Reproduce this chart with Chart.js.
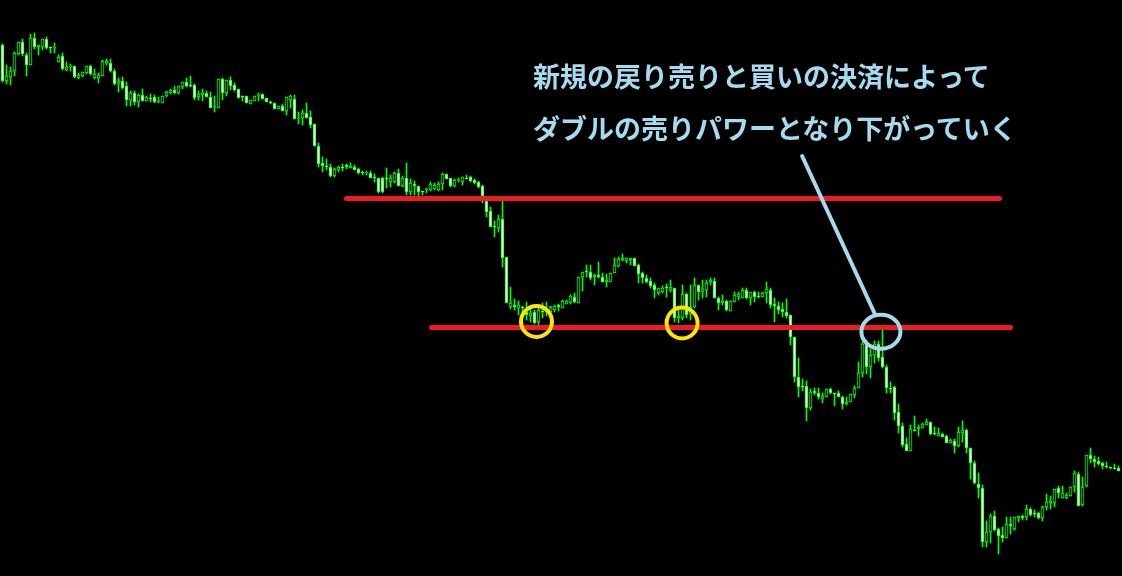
<!DOCTYPE html>
<html>
<head>
<meta charset="utf-8">
<script src="https://cdn.jsdelivr.net/npm/chart.js@4/dist/chart.umd.min.js"></script>
<style>
  html, body { margin: 0; padding: 0; background: #000; }
  #wrap { position: relative; width: 1122px; height: 576px; overflow: hidden; }
  .note {
    position: absolute; left: 533px; margin: 0; white-space: nowrap;
    font-family: "Noto Sans CJK JP", "Noto Sans", sans-serif;
    font-weight: 700; font-size: 27px; line-height: 27px; color: #a6dbef;
  }
</style>
</head>
<body>
<div id="wrap">
  <canvas id="chart" width="1122" height="576"></canvas>
  <p class="note" style="top:62px">新規の戻り売りと買いの決済によって</p>
  <p class="note" style="top:114px">ダブルの売りパワーとなり下がっていく</p>
</div>
<script>
// ローソク足 (価格はポイント表記)
var opens = [
  555,519,523,529,546,558,545,535,562,553, 553,561,553,552,538,544,530,533,534,522,
  524,527,534,522,522,524,537,537,529,516, 519,514,500,507,498,505,499,502,503,498,
  497,504,507,510,507,513,518,515,515,503, 505,507,503,493,492,521,507,520,515,511,
  504,504,496,499,504,506,502,498,497,491, 494,489,500,501,481,482,487,483,476,454,
  437,434,433,424,430,433,435,432,433,431, 428,427,427,423,422,422,422,418,418,427,
  414,422,408,416,414,409,410,410,411,410, 416,426,422,414,420,418,422,423,420,418,
  414,399,389,374,372,381,343,293,295,292, 293,288,284,288,278,289,288,288,290,295,
  292,296,297,303,297,323,329,328,323,325, 323,318,318,327,334,340,339,340,342,335,
  327,322,319,315,307,308,313,310,312,282, 282,306,286,293,315,308,310,318,319,302,
  297,299,289,298,303,302,310,302,308,304, 303,307,310,296,294,291,288,285,263,223,
  214,214,192,209,207,201,203,211,207,207, 203,196,198,205,212,227,256,233,245,256,
  243,233,212,213,188,174,156,149,170,171, 172,175,178,167,164,166,164,157,159,154,
  167,170,152,137,116,112,58,68,84,71, 65,62,76,71,82,84,83,91,87,87,
  82,93,97,97,112,102,102,104,113,126, 95,114,145,141,139,137,134,133,132,132
];
var highs = [
  556,535,533,548,558,561,547,566,567,555, 561,563,553,557,545,547,538,536,534,527,
  528,534,535,531,527,540,541,541,531,522, 523,518,509,509,506,511,504,506,505,503,
  504,509,511,514,514,518,522,524,516,509, 511,509,508,504,521,522,520,523,517,511,
  504,504,500,504,507,506,502,499,497,494, 496,503,505,505,488,490,497,489,476,457,
  443,441,436,432,434,436,436,437,435,432, 429,429,429,426,422,423,432,425,428,431,
  424,437,421,419,414,409,412,418,417,418, 427,426,422,421,422,423,425,424,421,419,
  415,399,393,379,385,399,343,313,301,299, 294,298,292,290,294,297,298,294,295,296,
  300,300,305,307,323,328,335,335,326,338, 327,326,327,342,343,346,342,342,342,336,
  328,325,322,317,312,314,316,320,312,290, 315,307,315,322,315,320,320,322,322,303,
  305,300,299,308,308,312,312,308,309,308, 308,318,312,302,298,297,301,285,263,242,
  221,219,211,212,212,207,211,212,207,209, 204,203,206,214,238,258,260,251,259,259,
  270,235,218,214,196,177,162,175,184,175, 177,181,178,173,172,167,165,161,161,173,
  179,171,152,139,127,115,79,86,89,72, 73,83,83,83,84,85,95,92,90,88,
  94,106,104,111,114,114,107,113,129,128, 123,145,152,144,143,138,138,133,136,134
];
var lows = [
  518,516,515,524,545,544,524,535,551,545, 550,551,547,547,538,530,529,529,522,521,
  523,526,525,521,517,524,535,528,515,508, 511,494,494,495,493,499,499,498,497,497,
  497,503,506,506,506,511,513,513,500,500, 499,503,492,488,492,500,504,510,509,502,
  499,497,496,499,499,501,498,496,491,491, 489,485,492,481,476,475,482,472,454,433,
  428,430,423,423,428,429,431,432,430,426, 425,425,422,418,407,407,412,413,417,414,
  413,405,405,405,404,405,407,409,410,409, 410,421,413,413,418,415,421,418,416,412,
  397,383,373,363,368,333,297,291,290,285, 285,280,278,276,275,282,284,287,288,289,
  292,296,296,297,297,309,323,320,315,322, 318,313,318,327,333,339,337,335,334,317,
  317,317,312,302,305,307,303,308,278,277, 280,282,280,292,300,302,303,315,302,290,
  295,289,289,298,300,302,301,295,298,302, 303,297,292,278,286,283,282,255,218,203,
  209,179,190,205,201,197,203,206,194,203, 191,195,198,202,212,223,226,222,237,239,
  232,207,207,180,167,153,149,149,169,164, 172,175,165,165,164,163,157,157,147,153,
  158,147,121,116,102,53,53,57,69,46, 58,62,66,70,78,80,80,84,83,81,
  79,90,91,93,102,102,101,104,108,94, 94,113,137,133,135,131,132,131,131,129
];
var closes = [
  519,524,529,547,558,546,535,562,553,555, 561,552,552,553,543,531,533,534,523,525,
  528,534,526,526,525,539,539,529,516,519, 512,500,507,498,505,499,503,501,498,499,
  504,508,510,507,514,518,514,514,502,506, 507,503,492,494,521,507,520,514,510,502,
  503,497,500,504,505,501,498,497,491,494, 489,503,504,481,482,487,482,475,454,436,
  434,433,424,431,433,432,433,434,430,427, 427,428,422,422,408,408,421,422,427,414,
  422,408,417,414,408,408,411,416,415,416, 426,421,414,420,421,423,421,419,417,413,
  404,388,373,373,381,342,297,297,293,295, 292,285,287,277,290,288,289,293,294,293,
  299,299,304,298,323,328,328,322,325,323, 318,320,327,335,341,342,342,342,334,326,
  322,318,314,310,312,312,312,313,282,284, 306,285,293,315,308,311,317,320,302,297,
  299,290,299,305,306,310,302,308,303,303, 307,311,295,294,290,288,284,263,223,213,
  213,192,208,207,203,204,211,207,206,203, 196,198,206,212,227,256,233,245,256,242,
  233,212,211,187,174,155,149,171,169,173, 176,178,166,166,167,163,157,160,154,168,
  170,152,137,117,112,58,68,84,70,64, 62,76,74,83,84,82,91,85,86,82,
  93,98,99,111,107,107,105,113,127,94, 113,145,141,138,136,134,133,132,131,129
];

// 水平線 (価格, 開始足, 終了足)
var linePrices = [401.5, 272.5];
var lineFrom = [86, 107.25];
var lineTo = [249.25, 252];
// 黄色の丸 (足, 価格)
var markBars = [133.5, 169.9];
var markPrices = [278.5, 277];
// 水色の丸と引き出し線
var calloutBar = 219.6, calloutPrice = 268.3;
var leaderBars = [199.9, 218.1];
var leaderPrices = [444, 286];

var GREEN = '#00ff00';

var wicks = [];
var bodies = [];
var fills = [];
for (var i = 0; i < opens.length; i++) {
    wicks.push({x: i, y: [lows[i], highs[i]]});
    bodies.push({x: i, y: [opens[i], closes[i]]});
    fills.push(closes[i] < opens[i] ? '#ffffff' : '#000000'); //陰線は白、陽線は黒
}

var guides = {
    id: 'guides',
    afterDatasetsDraw: function(chart) {
        var ctx = chart.ctx;
        var xs = chart.scales.x;
        var ys = chart.scales.y;
        ctx.save();
        ctx.lineCap = 'round';

        // 赤いライン
        ctx.strokeStyle = '#ed1c24';
        ctx.lineWidth = 5;
        for (var k = 0; k < linePrices.length; k++) {
            var py = ys.getPixelForValue(linePrices[k]);
            ctx.beginPath();
            ctx.moveTo(xs.getPixelForValue(lineFrom[k]), py);
            ctx.lineTo(xs.getPixelForValue(lineTo[k]), py);
            ctx.stroke();
        }

        // 黄色の丸
        ctx.strokeStyle = '#ffe600';
        ctx.lineWidth = 4;
        for (var m = 0; m < markBars.length; m++) {
            ctx.beginPath();
            ctx.arc(xs.getPixelForValue(markBars[m]), ys.getPixelForValue(markPrices[m]), 15.5, 0, Math.PI * 2);
            ctx.stroke();
        }

        // 水色の線と丸
        ctx.strokeStyle = '#a8d8ea';
        ctx.lineWidth = 4;
        ctx.beginPath();
        ctx.moveTo(xs.getPixelForValue(leaderBars[0]), ys.getPixelForValue(leaderPrices[0]));
        ctx.lineTo(xs.getPixelForValue(leaderBars[1]), ys.getPixelForValue(leaderPrices[1]));
        ctx.stroke();
        ctx.beginPath();
        ctx.ellipse(xs.getPixelForValue(calloutBar), ys.getPixelForValue(calloutPrice), 19.5, 17, 0, 0, Math.PI * 2);
        ctx.stroke();

        ctx.restore();
    }
};

var chart = new Chart(document.getElementById('chart'), {
    type: 'bar',
    data: {
        datasets: [
            {
                label: 'body',
                data: bodies,
                backgroundColor: fills,
                borderColor: GREEN,
                borderWidth: 1,
                borderSkipped: false,
                barThickness: 3,
                grouped: false
            },
            {
                label: 'wick',
                data: wicks,
                backgroundColor: GREEN,
                borderWidth: 0,
                barThickness: 1,
                grouped: false
            }
        ]
    },
    options: {
        responsive: false,
        animation: false,
        devicePixelRatio: 1,
        layout: { padding: 0 },
        plugins: {
            legend: { display: false },
            tooltip: { enabled: false }
        },
        scales: {
            x: { type: 'linear', min: -0.625, max: 279.875, offset: false, display: false },
            y: { min: 24, max: 600, display: false }
        }
    },
    plugins: [guides]
});
</script>
</body>
</html>
